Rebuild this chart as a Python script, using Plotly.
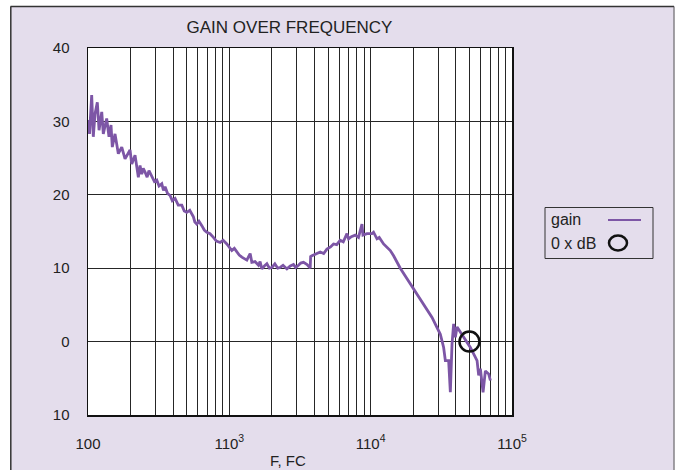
import plotly.graph_objects as go

# ---------------- data ----------------
freq_hz = [100.5, 102.5, 106.2, 109.0, 112.1, 116.4, 119.7, 125.1, 128.3, 135.6,
           140.8, 145.5, 148.6, 155.3, 163.9, 173.3, 182.8, 198.4, 204.0, 215.2,
           227.1, 233.5, 240.0, 246.0, 253.3, 262.0, 270.0, 282.6, 295.0, 306.6,
           318.0, 332.7, 342.0, 351.1, 365.0, 380.8, 395.0, 413.2, 435.0, 460.9,
           480.0, 500.0, 525.0, 556.9, 570.0, 588.7, 610.0, 638.8, 665.0, 692.9,
           730.0, 771.7, 810.0, 860.8, 905.0, 960.0, 1000, 1041, 1085, 1130,
           1175, 1226, 1280, 1330, 1404, 1443, 1520, 1608, 1650, 1699,
           1770, 1844, 1920, 2000, 2100, 2200, 2290, 2400, 2554, 2700,
           2844, 2950, 3086, 3200, 3348, 3550, 3734, 3760, 3840, 4100,
           4397, 4650, 4903, 5200, 5460, 5750, 6090, 6400, 6796, 6976,
           7300, 7781, 8200, 8679, 8822, 9415, 10210, 10480, 10800, 11080,
           11500, 12340, 13770, 14530, 16200, 19080, 20130, 23700, 27180, 31110,
           32840, 33760, 35620, 36620, 37640, 38650, 39740, 40850, 44330, 50750,
           56600, 58100, 59730, 62410, 64800, 68390, 70310]
gain_db = [30.2, 28.3, 33.6, 27.9, 31.0, 32.6, 28.8, 31.3, 28.3, 30.4,
           27.9, 29.5, 26.5, 28.3, 25.6, 26.5, 24.9, 26.1, 24.2, 25.4,
           22.4, 24.0, 22.8, 23.6, 23.1, 22.4, 23.3, 22.6, 21.8, 22.0,
           21.2, 21.5, 20.6, 21.1, 20.2, 19.9, 19.2, 19.5, 18.6, 18.6,
           17.8, 17.6, 17.9, 17.0, 16.3, 16.0, 16.4, 15.8, 15.2, 14.9,
           14.7, 14.2, 13.7, 13.5, 13.8, 13.3, 12.8, 12.4, 12.7, 12.2,
           11.8, 11.5, 11.3, 11.1, 12.0, 10.8, 10.9, 10.4, 10.9, 9.9,
           10.3, 10.6, 10.0, 10.1, 10.6, 10.0, 10.1, 10.4, 9.9, 10.3,
           10.5, 10.1, 10.4, 10.7, 10.8, 10.5, 10.0, 11.6, 11.7, 11.9,
           12.2, 12.0, 12.6, 12.9, 13.3, 13.2, 13.8, 13.6, 14.7, 14.0,
           14.3, 14.5, 14.2, 16.0, 14.5, 14.7, 14.7, 14.9, 14.5, 14.0,
           14.2, 13.3, 12.4, 11.7, 10.0, 7.9, 7.2, 5.1, 3.3, 1.0,
           -0.8, -2.6, -2.6, -6.9, -0.3, 2.4, 0.6, 2.0, 1.0, -0.8,
           -2.6, -4.6, -3.7, -6.9, -4.0, -4.4, -5.3]

zero_db_freq = [50000]
zero_db_gain = [0]

x_tick_vals = [100, 1000, 10000, 100000]
x_tick_text = ["100", "110<sup>3</sup>", "110<sup>4</sup>", "110<sup>5</sup>"]
y_tick_vals = [40, 30, 20, 10, 0, -10]
y_tick_text = ["40", "30", "20", "10", "0", "10"]
minor_mult = [2, 3, 4, 5, 6, 7, 8, 9]
decades = [100, 1000, 10000]
minor_vals = [m * d for d in decades for m in minor_mult]

title_text = "GAIN OVER FREQUENCY"
x_title = "F, FC"
legend_names = ["gain", "0 x dB"]

# ---------------- styling / layout ----------------
W, H = 676, 470
L, R, T, B = 88, 512, 48, 415
BG = "#E4DDEC"
PURPLE = "#7D56A6"
GRID = "#262626"
FONT = "Liberation Sans, Arial, sans-serif"


def px(x):
    return (x - L) / (R - L)


def py(y):
    return (B - y) / (B - T)


fig = go.Figure()
fig.add_trace(go.Scatter(x=freq_hz, y=gain_db, mode="lines",
                         line=dict(color=PURPLE, width=2.8),
                         name=legend_names[0], showlegend=False,
                         hoverinfo="skip"))
fig.add_trace(go.Scatter(x=zero_db_freq, y=zero_db_gain, mode="markers",
                         marker=dict(symbol="circle-open", size=20, color="#111111",
                                     line=dict(color="#111111", width=2.5)),
                         name=legend_names[1], showlegend=False,
                         hoverinfo="skip"))

shapes = [
    # white strips outside the frame
    dict(type="rect", xref="paper", yref="paper", x0=px(0), x1=px(W), y0=py(0), y1=py(6),
         fillcolor="white", line=dict(width=0), layer="below"),
    dict(type="rect", xref="paper", yref="paper", x0=px(0), x1=px(10.5), y0=py(0), y1=py(H),
         fillcolor="white", line=dict(width=0), layer="below"),
    dict(type="rect", xref="paper", yref="paper", x0=px(674.5), x1=px(W), y0=py(0), y1=py(H),
         fillcolor="white", line=dict(width=0), layer="below"),
    # frame lines
    dict(type="line", xref="paper", yref="paper", x0=px(10.5), x1=px(674), y0=py(6.5), y1=py(6.5),
         line=dict(color="#333333", width=1.5)),
    dict(type="line", xref="paper", yref="paper", x0=px(10.8), x1=px(10.8), y0=py(6.5), y1=py(H),
         line=dict(color="#333333", width=1.5)),
    dict(type="line", xref="paper", yref="paper", x0=px(674), x1=px(674), y0=py(6.5), y1=py(H),
         line=dict(color="#555555", width=1)),
    # custom legend
    dict(type="rect", xref="paper", yref="paper", x0=px(545), x1=px(653), y0=py(207.5), y1=py(258.5),
         line=dict(color="#333333", width=1), fillcolor=BG),
    dict(type="line", xref="paper", yref="paper", x0=px(608), x1=px(641), y0=py(220), y1=py(220),
         line=dict(color=PURPLE, width=2)),
    dict(type="circle", xref="paper", yref="paper", x0=px(609), x1=px(627), y0=py(235.5), y1=py(250.5),
         line=dict(color="#111111", width=2.5)),
]

annotations = [
    dict(text=x_title, xref="paper", yref="paper", x=px(288), y=py(460),
         showarrow=False, xanchor="center", yanchor="middle",
         font=dict(size=15, color="#222222", family=FONT)),
    dict(text=legend_names[0], xref="paper", yref="paper", x=px(549), y=py(219),
         showarrow=False, xanchor="left", yanchor="middle",
         font=dict(size=16, color="#222222", family=FONT)),
    dict(text=legend_names[1], xref="paper", yref="paper", x=px(549), y=py(243),
         showarrow=False, xanchor="left", yanchor="middle",
         font=dict(size=16, color="#222222", family=FONT)),
]

fig.update_layout(
    width=W, height=H, autosize=False,
    margin=dict(l=L, r=W - R, t=T, b=H - B, pad=0),
    paper_bgcolor=BG, plot_bgcolor="white",
    font=dict(family=FONT, size=15, color="#222222"),
    title=dict(text=title_text, x=289.5 / W, xref="container", xanchor="center",
               y=1 - 27 / H, yref="container", yanchor="middle",
               font=dict(size=17, color="#222222", family=FONT)),
    showlegend=False,
    hovermode=False,
    shapes=shapes,
    annotations=annotations,
    xaxis=dict(type="log", range=[2, 5], tickmode="array",
               tickvals=x_tick_vals, ticktext=x_tick_text,
               showgrid=True, gridcolor=GRID, gridwidth=1,
               minor=dict(tickmode="array", tickvals=minor_vals, showgrid=True,
                          gridcolor=GRID, gridwidth=1, ticks=""),
               showline=True, mirror=True, linecolor="#111111", linewidth=1.5,
               ticks="", ticklabelstandoff=14, zeroline=False,
               tickfont=dict(size=15, color="#222222")),
    yaxis=dict(range=[-10, 40], tickmode="array",
               tickvals=y_tick_vals, ticktext=y_tick_text,
               showgrid=True, gridcolor=GRID, gridwidth=1,
               showline=True, mirror=True, linecolor="#111111", linewidth=1.5,
               ticks="", ticklabelstandoff=14, zeroline=False,
               tickfont=dict(size=15, color="#222222")),
)

fig.write_html("out.html",
               config={"displayModeBar": False, "staticPlot": True},
               post_script="document.body.style.margin='0';document.body.style.padding='0';"
                           "document.body.style.overflow='hidden';")
